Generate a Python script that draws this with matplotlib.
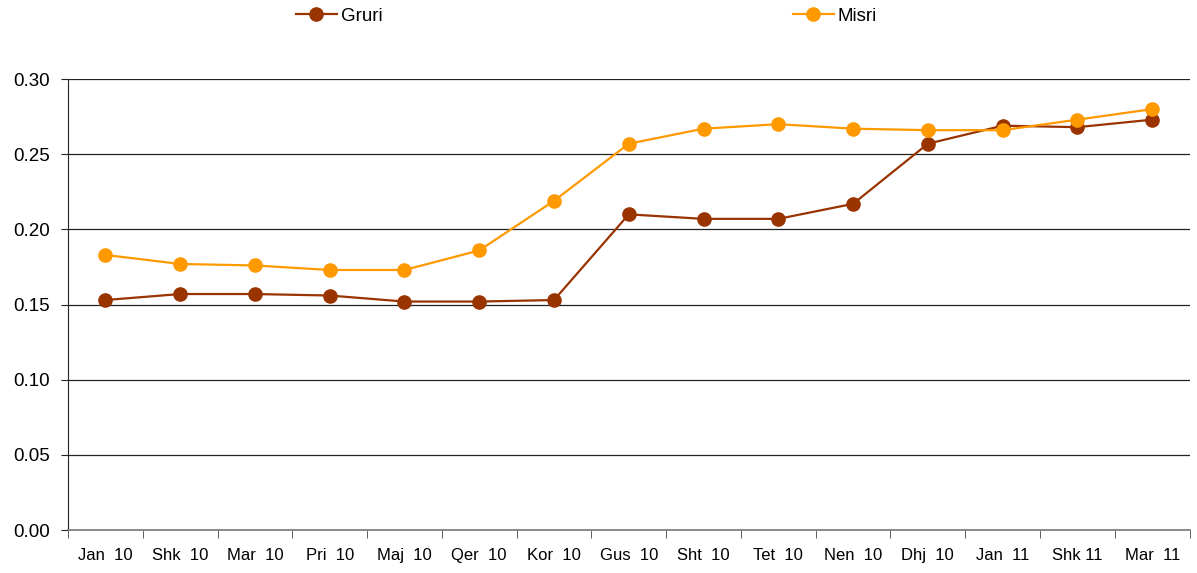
import matplotlib.pyplot as plt
from matplotlib.lines import Line2D

# Datos
meses = ["Jan  10", "Shk  10", "Mar  10", "Pri  10", "Maj  10", "Qer  10", "Kor  10",
         "Gus  10", "Sht  10", "Tet  10", "Nen  10", "Dhj  10", "Jan  11", "Shk 11", "Mar  11"]
gruri = [0.153, 0.157, 0.157, 0.156, 0.152, 0.152, 0.153,
         0.210, 0.207, 0.207, 0.217, 0.257, 0.269, 0.268, 0.273]
misri = [0.183, 0.177, 0.176, 0.173, 0.173, 0.186, 0.219,
         0.257, 0.267, 0.270, 0.267, 0.266, 0.266, 0.273, 0.280]

color_gruri = "#993300"
color_misri = "#FF9900"

plt.rcParams['font.family'] = ['Liberation Sans', 'DejaVu Sans']

fig = plt.figure(figsize=(11.97, 5.73), dpi=100)
ax = fig.add_axes([0.0568, 0.075, 0.937, 0.787])

x = list(range(len(meses)))
ax.plot(x, gruri, color=color_gruri, lw=1.6, marker='o', markersize=9.5, zorder=3)
ax.plot(x, misri, color=color_misri, lw=1.6, marker='o', markersize=9.5, zorder=3)

# Eje Y y lineas de cuadricula
ax.set_ylim(0, 0.30)
ax.set_yticks([0.0, 0.05, 0.10, 0.15, 0.20, 0.25, 0.30])
ax.set_yticklabels([f"{v:.2f}" for v in ax.get_yticks()], fontsize=13.5)
for v in ax.get_yticks()[1:]:
    ax.axhline(v, color='#222222', lw=0.9, zorder=1)

# Eje X: etiquetas centradas, marcas entre categorias
ax.set_xlim(-0.5, len(meses) - 0.5)
ax.set_xticks(x)
ax.set_xticklabels(meses, fontsize=12)
ax.set_xticks([i - 0.5 for i in range(len(meses) + 1)], minor=True)
ax.tick_params(axis='x', which='major', length=0, pad=13)
ax.tick_params(axis='x', which='minor', length=6, color='#444444')
ax.tick_params(axis='y', length=5, pad=8, color='#222222')

for lado in ['top', 'right']:
    ax.spines[lado].set_visible(False)
ax.spines['left'].set_color('#222222')
ax.spines['bottom'].set_color('#777777')
ax.spines['bottom'].set_linewidth(1.2)

# Leyenda arriba, dos entradas separadas
h1 = Line2D([], [], color=color_gruri, lw=1.6, marker='o', markersize=9.5)
h2 = Line2D([], [], color=color_misri, lw=1.6, marker='o', markersize=9.5)
fig.legend([h1], ["Gruri"], loc='center left', bbox_to_anchor=(0.233, 0.972),
           frameon=False, fontsize=13.5, handlelength=2.2, handletextpad=0.2)
fig.legend([h2], ["Misri"], loc='center left', bbox_to_anchor=(0.648, 0.972),
           frameon=False, fontsize=13.5, handlelength=2.2, handletextpad=0.2)

fig.savefig("out.png", dpi=100)
